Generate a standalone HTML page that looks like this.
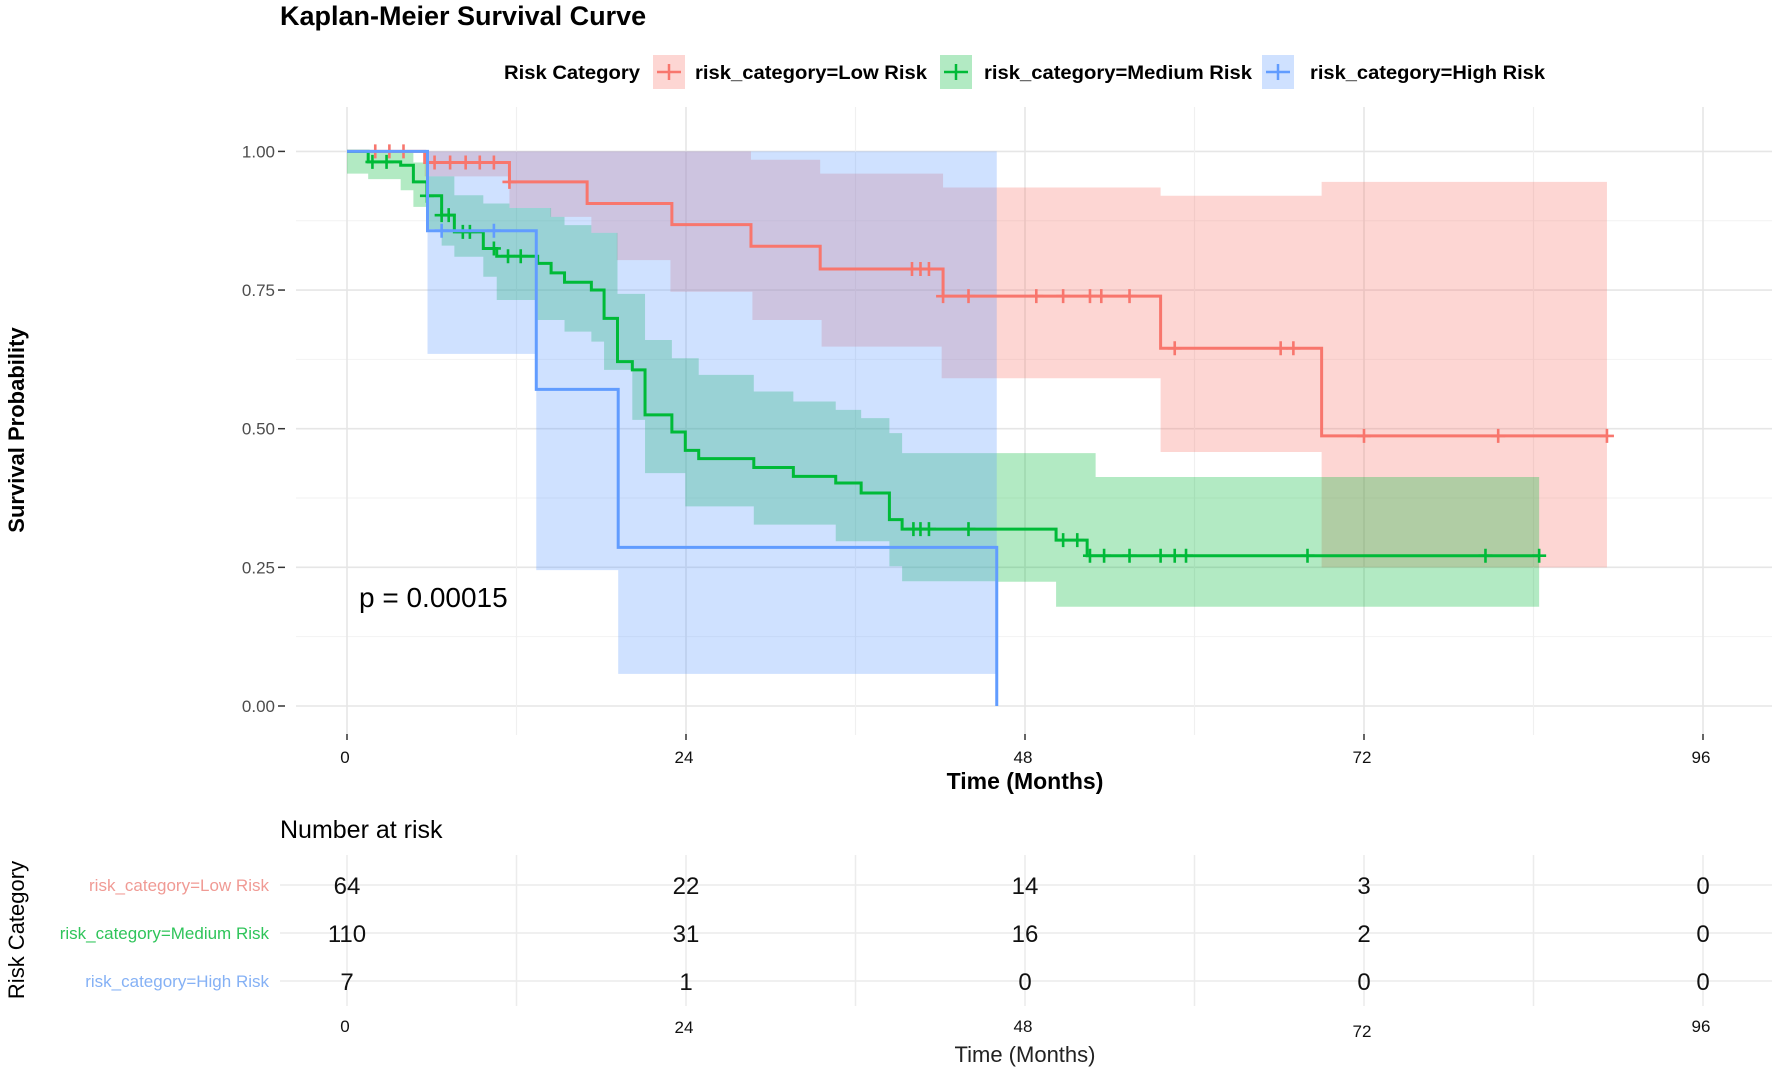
<!DOCTYPE html>
<html><head><meta charset="utf-8"><style>
html,body{margin:0;padding:0;background:#fff;}
svg{display:block;font-family:"Liberation Sans",sans-serif;}
</style></head><body>
<svg id="chart" width="1772" height="1070" viewBox="0 0 1772 1070">
<text x="280" y="25" font-size="27" font-weight="bold" fill="#000">Kaplan-Meier Survival Curve</text>
<g>
<text x="504" y="79" font-size="19" font-weight="bold" textLength="136" lengthAdjust="spacingAndGlyphs">Risk Category</text>
<g>
<rect x="653" y="55" width="32" height="34" fill="#F8766D" fill-opacity="0.3"/>
<path d="M657 72H681M669 64V80" stroke="#F8766D" stroke-width="2.5"/>
<text x="695" y="79" font-size="19" font-weight="bold" textLength="232" lengthAdjust="spacingAndGlyphs">risk_category=Low Risk</text></g>
<g>
<rect x="940" y="55" width="32" height="34" fill="#00BA38" fill-opacity="0.3"/>
<path d="M944 72H968M956 64V80" stroke="#00BA38" stroke-width="2.5"/>
<text x="984" y="79" font-size="19" font-weight="bold" textLength="268" lengthAdjust="spacingAndGlyphs">risk_category=Medium Risk</text></g>
<g>
<rect x="1262" y="55" width="32" height="34" fill="#619CFF" fill-opacity="0.3"/>
<path d="M1266 72H1290M1278 64V80" stroke="#619CFF" stroke-width="2.5"/>
<text x="1310" y="79" font-size="19" font-weight="bold" textLength="235" lengthAdjust="spacingAndGlyphs">risk_category=High Risk</text></g>
</g>
<g id="grid"></g>
<g id="bands"></g>
<g id="lines"></g>
<g id="axes"></g>
<text x="359" y="607" font-size="28" fill="#000">p = 0.00015</text>
<text transform="translate(24,430) rotate(-90)" text-anchor="middle" font-size="22" font-weight="bold">Survival Probability</text>
<text x="1025" y="789" text-anchor="middle" font-size="23" font-weight="bold">Time (Months)</text>
<text x="280" y="838" font-size="25">Number at risk</text>
<text transform="translate(24,930) rotate(-90)" text-anchor="middle" font-size="22">Risk Category</text>
<text x="1025" y="1062" text-anchor="middle" font-size="22" fill="#222">Time (Months)</text>
<g id="table"></g>
</svg>
<script>
const NS="http://www.w3.org/2000/svg";
const xTicks=[0,24,48,72,96];
const yTicks=[0,0.25,0.5,0.75,1];
const yTickLabels=["0.00","0.25","0.50","0.75","1.00"];
const groups=["Low Risk","Medium Risk","High Risk"];
const colors=["#F8766D","#00BA38","#619CFF"];
// Low risk
const lowT=[0,5.5,11.5,17,23,28.6,33.5,42.2,57.6,69];
const lowS=[1,0.98,0.945,0.906,0.868,0.829,0.788,0.739,0.645,0.487];
const lowEnd=89.2;
const lowCens=[2,3,4,6.2,7.3,8.4,9.4,10.4,11.5,40,40.6,41.2,42.2,44,48.8,50.7,52.6,53.4,55.4,58.6,66.1,67,72,81.5,89.2];
const lowUpT=[5.5,28.6,33.5,42.2,57.6,69];
const lowUp=[1,0.985,0.96,0.935,0.92,0.945];
const lowLoT=[5.5,11.5,14.4,17.3,19.1,22.9,28.7,33.6,42.1,57.6,69];
const lowLo=[0.955,0.898,0.882,0.853,0.804,0.747,0.696,0.648,0.591,0.458,0.25];
// Medium risk
const medT=[0,1.5,3.8,4.7,5.66,6.7,7.6,9.65,10.6,13.5,14.45,15.4,17.3,18.2,19.15,20.2,21.1,23.0,23.95,24.9,28.8,31.6,34.6,36.4,38.4,39.3,50.2,52.4];
const medS=[1,0.981,0.975,0.945,0.92,0.885,0.855,0.825,0.811,0.798,0.781,0.764,0.75,0.699,0.621,0.606,0.525,0.494,0.461,0.446,0.43,0.414,0.402,0.384,0.336,0.319,0.299,0.271];
const medEnd=84.4;
const medCens=[1.8,2.8,5.66,6.7,7.2,8.2,8.7,10.4,11.4,12.3,40.1,40.6,41.2,44,50.7,51.7,52.6,53.6,55.4,57.6,58.6,59.4,68,80.6,84.4];
const medUpT=[0,4.7,5.66,7.6,9.65,11.5,14.45,15.4,17.3,19.15,21.1,23.0,24.9,28.8,31.6,34.6,36.4,38.4,39.3,53];
const medUp=[1,0.98,0.955,0.921,0.906,0.898,0.882,0.867,0.853,0.743,0.66,0.627,0.597,0.567,0.549,0.534,0.519,0.492,0.456,0.413];
const medLoT=[0,1.5,3.8,4.7,5.66,6.7,7.6,9.65,10.6,13.5,15.4,17.3,18.2,20.2,21.1,23.95,28.8,34.6,38.4,39.3,46,50.2];
const medLo=[0.96,0.95,0.93,0.9,0.86,0.83,0.81,0.774,0.732,0.696,0.675,0.657,0.606,0.516,0.42,0.36,0.327,0.297,0.252,0.225,0.224,0.179];
// High risk
const highT=[0,5.7,13.4,19.2,46];
const highS=[1,0.857,0.571,0.286,0];
const highEnd=46;
const highCens=[6.7,10.4];
const highUpT=[5.7];
const highUp=[1];
const highLoT=[5.7,13.4,19.2];
const highLo=[0.635,0.245,0.058];
// risk table
const riskLow=[64,22,14,3,0];
const riskMed=[110,31,16,2,0];
const riskHigh=[7,1,0,0,0];

const X=m=>347+m*14.125;
const Y=v=>706-v*554.6;
function mk(tag,attrs,parent){const e=document.createElementNS(NS,tag);for(const k in attrs)e.setAttribute(k,attrs[k]);parent.appendChild(e);return e;}
const grid=document.getElementById('grid'),bands=document.getElementById('bands'),lines=document.getElementById('lines'),axes=document.getElementById('axes'),table=document.getElementById('table');
for(let v=0;v<=1.0001;v+=0.125){const major=Math.abs(v*4-Math.round(v*4))<1e-6;
 const l=mk('line',{x1:296,x2:1772,y1:Y(v),y2:Y(v),stroke:major?'#e6e6e6':'#f2f2f2','stroke-width':major?1.6:1},grid);
 
 }
for(let m=0;m<=96;m+=12){const major=m%24===0;
 const l=mk('line',{x1:X(m),x2:X(m),y1:107,y2:735,stroke:major?'#e6e6e6':'#f0f0f0','stroke-width':major?1.6:1.2},grid);
 
 }
function stepPath(T,S,end){let d=`M${X(T[0])},${Y(S[0])}`;for(let i=1;i<T.length;i++){d+=`H${X(T[i])}V${Y(S[i])}`;}d+=`H${X(end)}`;return d;}
function stepPts(T,S,end){const p=[];for(let i=0;i<T.length;i++){const t2=i+1<T.length?T[i+1]:end;p.push([X(T[i]),Y(S[i])],[X(t2),Y(S[i])]);}return p;}
function band(uT,u,lT,l,end,col,name){const up=stepPts(uT,u,end),lo=stepPts(lT,l,end).reverse();
 const pts=up.concat(lo).map(p=>p.join(',')).join(' ');
 const b=mk('polygon',{points:pts,fill:col,'fill-opacity':0.3},bands);
 
 }
band(lowUpT,lowUp,lowLoT,lowLo,lowEnd,colors[0],'ci-band-low');
band(medUpT,medUp,medLoT,medLo,medEnd,colors[1],'ci-band-medium');
band(highUpT,highUp,highLoT,highLo,highEnd,colors[2],'ci-band-high');
function curve(T,S,end,cens,col,name){
 const p=mk('path',{d:stepPath(T,S,end),fill:'none',stroke:col,'stroke-width':3},lines);
 
 
 cens.forEach(c=>{let s=S[0];for(let i=0;i<T.length;i++)if(T[i]<=c)s=S[i];
  const cm=mk('path',{d:`M${X(c)-7},${Y(s)}H${X(c)+7}M${X(c)},${Y(s)-7}V${Y(s)+7}`,stroke:col,'stroke-width':2.6},lines);
  
  });}
curve(lowT,lowS,lowEnd,lowCens,colors[0],'survival-curve-low');
curve(medT,medS,medEnd,medCens,colors[1],'survival-curve-medium');
curve(highT,highS,highEnd,highCens,colors[2],'survival-curve-high');
yTicks.forEach((v,i)=>{const t=mk('text',{x:275,y:Y(v)+6,'text-anchor':'end','font-size':17,fill:'#4d4d4d'},axes);t.textContent=yTickLabels[i];
 
 
 mk('line',{x1:278,x2:285,y1:Y(v),y2:Y(v),stroke:'#333','stroke-width':1.5},axes);});
xTicks.forEach(m=>{mk('line',{x1:X(m),x2:X(m),y1:734,y2:740,stroke:'#333','stroke-width':1.5},axes);
 const t=mk('text',{x:X(m)-2,y:763,'text-anchor':'middle','font-size':17,fill:'#111'},axes);t.textContent=m;
 
 });
const rowsY=[885,933,981];
for(let m=0;m<=96;m+=12){const l=mk('line',{x1:X(m),x2:X(m),y1:855,y2:1006,stroke:'#ececec','stroke-width':1.5},table);
 
 }
const tabData=[riskLow,riskMed,riskHigh];
const labelColors=["#f09a94","#2fc45a","#85b1f5"];
tabData.forEach((row,r)=>{mk('line',{x1:280,x2:1772,y1:rowsY[r],y2:rowsY[r],stroke:'#ececec','stroke-width':1.5},table);
 const lab=mk('text',{x:269,y:rowsY[r]+6,'text-anchor':'end','font-size':17,fill:labelColors[r]},table);lab.textContent='risk_category='+groups[r];
 
 
 row.forEach((n,i)=>{const t=mk('text',{x:X(xTicks[i]),y:rowsY[r]+9,'text-anchor':'middle','font-size':24,fill:'#111'},table);t.textContent=n;
  
  });});
const tabTickY=[1032,1033,1032,1037,1032];
xTicks.forEach((m,i)=>{const t=mk('text',{x:X(m)-2,y:tabTickY[i],'text-anchor':'middle','font-size':17,fill:'#111'},table);t.textContent=m;
 
 });
</script>
</body></html>
